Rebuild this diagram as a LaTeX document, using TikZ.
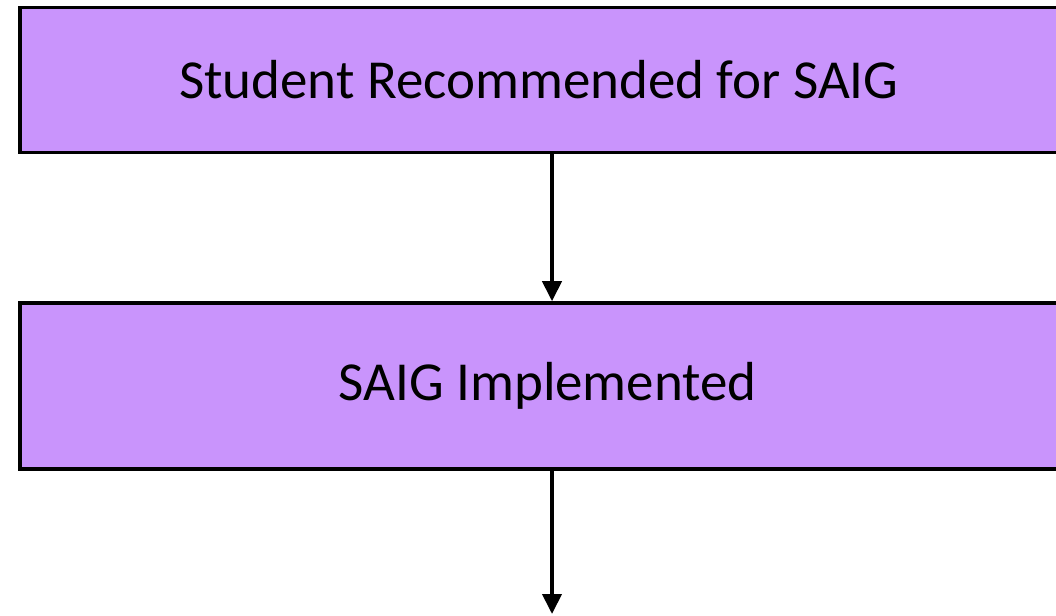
\documentclass[tikz,border=0pt]{standalone}
\usepackage{fontspec}
\setmainfont{Carlito}
\usepackage{tikz}
\usetikzlibrary{arrows.meta,positioning}
\definecolor{saigpurple}{HTML}{C994FC}
\tikzset{stepbox/.style={rectangle,draw=black,fill=saigpurple,line width=3.5pt,
    minimum width=1037.5pt,inner sep=0pt,font=\fontsize{55}{66}\selectfont}}
\tikzset{flow/.style={-{Triangle[width=19pt,length=20pt]},line width=4pt}}

\begin{document}
\begin{tikzpicture}[x=1pt,y=1pt]
\useasboundingbox (0,0) rectangle (1056,615);
% \draw[help lines] (0,0) grid (1056,615);
\node (recommended) [stepbox,minimum height=145pt] at (538.75,535) {Student Recommended for SAIG};
\node (implemented) [stepbox,minimum height=166pt] at (538.75,229) {\hspace*{18pt}SAIG Implemented};
\coordinate (next) at (552,1);
%
\path[flow](recommended.south -| next) edge (implemented.north -| next);
\path[flow](implemented.south -| next) edge (next);
\end{tikzpicture}
\end{document}
